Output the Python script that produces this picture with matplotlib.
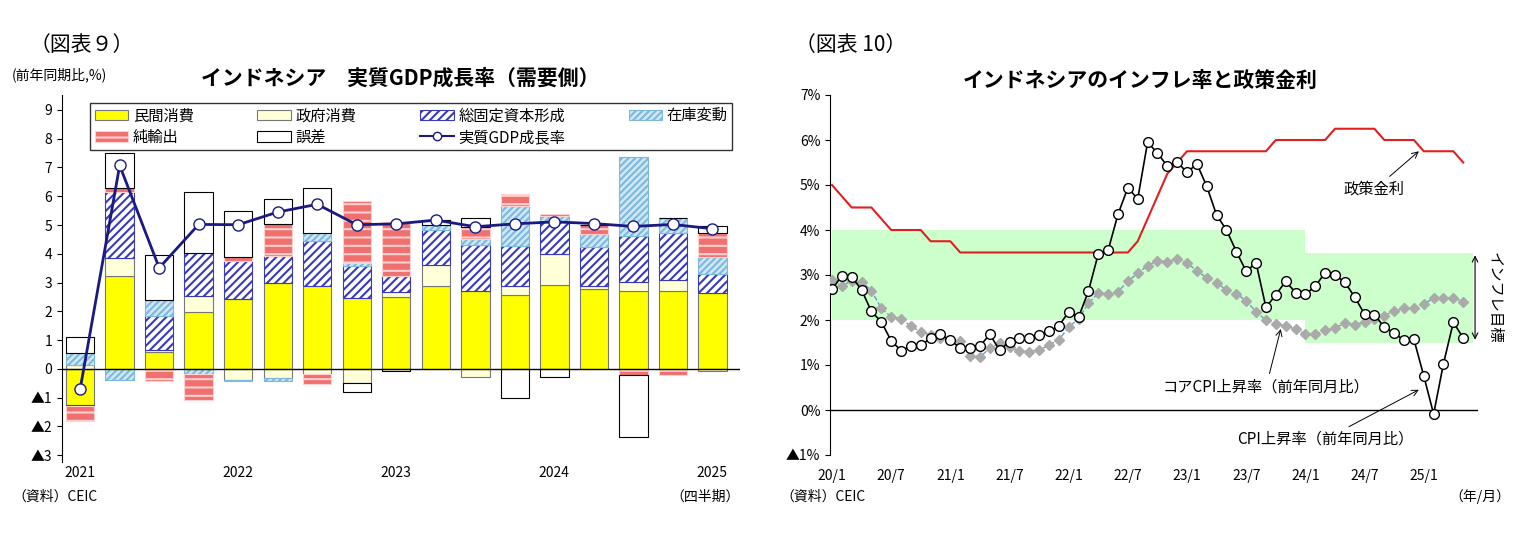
import matplotlib
matplotlib.use("Agg")
import matplotlib.pyplot as plt
import numpy as np
from matplotlib.patches import Patch
from matplotlib.lines import Line2D

plt.rcParams['font.family'] = ['Noto Sans CJK JP', 'DejaVu Sans']
plt.rcParams['hatch.linewidth'] = 1.5

# ---- Left chart data (2021Q1..2025Q1)
quarters = list(range(17))
year_labels = ["2021", "2022", "2023", "2024", "2025"]
private_cons = [-1.26, 3.24, 0.59, 1.97, 2.43, 2.98, 2.88, 2.47, 2.51, 2.88, 2.70, 2.58, 2.92, 2.76, 2.72, 2.71, 2.64]
gov_cons     = [0.13, 0.62, 0.06, 0.55, -0.40, -0.33, -0.19, -0.50, 0.16, 0.72, -0.30, 0.29, 1.08, 0.12, 0.29, 0.38, -0.07]
gfcf         = [-0.04, 2.29, 1.19, 1.49, 1.33, 0.95, 1.58, 1.09, 0.57, 1.23, 1.62, 1.41, 1.14, 1.34, 1.62, 1.64, 0.66]
stock        = [0.42, -0.40, 0.56, -0.19, -0.02, -0.09, 0.27, 0.12, 0.00, 0.16, 0.21, 1.37, 0.17, 0.45, 2.72, 0.52, 0.58]
net_exports  = [-0.50, 0.15, -0.42, -0.90, 0.12, 1.12, -0.35, 2.15, 1.86, 0.00, 0.41, 0.42, 0.08, 0.33, -0.22, -0.21, 0.84]
discrepancy  = [0.55, 1.19, 1.57, 2.14, 1.60, 0.87, 1.57, -0.30, -0.07, 0.20, 0.31, -1.02, -0.27, 0.00, -2.15, 0.00, 0.23]
gdp_growth   = [-0.70, 7.07, 3.51, 5.02, 5.01, 5.45, 5.72, 5.01, 5.04, 5.17, 4.94, 5.04, 5.11, 5.05, 4.95, 5.02, 4.87]

# ---- Right chart data (2020/1..2025/5)
cpi = [2.68, 2.98, 2.96, 2.67, 2.19, 1.96, 1.54, 1.32, 1.42, 1.44, 1.59, 1.68,
       1.55, 1.38, 1.37, 1.42, 1.68, 1.33, 1.52, 1.59, 1.60, 1.66, 1.75, 1.87,
       2.18, 2.06, 2.64, 3.47, 3.55, 4.35, 4.94, 4.69, 5.95, 5.71, 5.42, 5.51,
       5.28, 5.47, 4.97, 4.33, 4.00, 3.52, 3.08, 3.27, 2.28, 2.56, 2.86, 2.61,
       2.57, 2.75, 3.05, 3.00, 2.84, 2.51, 2.13, 2.12, 1.84, 1.71, 1.55, 1.57,
       0.76, -0.09, 1.03, 1.95, 1.60]
core_cpi = [2.88, 2.76, 2.87, 2.85, 2.65, 2.26, 2.07, 2.03, 1.86, 1.74, 1.67, 1.60,
            1.56, 1.53, 1.21, 1.18, 1.37, 1.49, 1.40, 1.31, 1.30, 1.33, 1.44, 1.56,
            1.84, 2.03, 2.37, 2.60, 2.58, 2.63, 2.86, 3.04, 3.21, 3.31, 3.30, 3.36,
            3.27, 3.09, 2.94, 2.83, 2.66, 2.58, 2.43, 2.18, 2.00, 1.91, 1.87, 1.80,
            1.68, 1.68, 1.77, 1.82, 1.93, 1.90, 1.95, 2.02, 2.09, 2.21, 2.26, 2.26,
            2.36, 2.48, 2.48, 2.50, 2.40]
policy_rate = [5.00, 4.75, 4.50, 4.50, 4.50, 4.25, 4.00, 4.00, 4.00, 4.00, 3.75, 3.75,
               3.75, 3.50, 3.50, 3.50, 3.50, 3.50, 3.50, 3.50, 3.50, 3.50, 3.50, 3.50,
               3.50, 3.50, 3.50, 3.50, 3.50, 3.50, 3.50, 3.75, 4.25, 4.75, 5.25, 5.50,
               5.75, 5.75, 5.75, 5.75, 5.75, 5.75, 5.75, 5.75, 5.75, 6.00, 6.00, 6.00,
               6.00, 6.00, 6.00, 6.25, 6.25, 6.25, 6.25, 6.25, 6.00, 6.00, 6.00, 6.00,
               5.75, 5.75, 5.75, 5.75, 5.50]
month_labels = ["20/1", "20/7", "21/1", "21/7", "22/1", "22/7", "23/1", "23/7", "24/1", "24/7", "25/1"]
target_lo = [2.0, 1.5]
target_hi = [4.0, 3.5]

W, H = 1528, 541
fig = plt.figure(figsize=(W/100, H/100), dpi=100)

def ax_rect(x0, y0, x1, y1):
    return [x0/W, 1-y1/H, (x1-x0)/W, (y1-y0)/H]

def ftext(x, y, s, **kw):
    fig.text(x/W, 1-y/H, s, **kw)

# ================= Left =================
ax = fig.add_axes(ax_rect(62, 95, 740, 462))
series = [
    (private_cons, dict(facecolor="#ffff00", edgecolor="#777777"), "民間消費"),
    (gov_cons, dict(facecolor="#ffffd8", edgecolor="#777777"), "政府消費"),
    (gfcf, dict(facecolor="white", edgecolor="#3a3ab8", hatch="////"), "総固定資本形成"),
    (stock, dict(facecolor="#cce8f6", edgecolor="#7fb8dd", hatch="/////"), "在庫変動"),
    (net_exports, dict(facecolor="#f07070", edgecolor="#ffd0d0", hatch="--"), "純輸出"),
    (discrepancy, dict(facecolor="white", edgecolor="black"), "誤差"),
]
x = np.array(quarters)
pos = np.zeros(17); neg = np.zeros(17)
handles = []
for vals, style, lab in series:
    v = np.array(vals)
    bottom = np.where(v >= 0, pos, neg)
    ax.bar(x, v, 0.72, bottom=bottom, linewidth=0.8, **style)
    pos = pos + np.where(v >= 0, v, 0)
    neg = neg + np.where(v < 0, v, 0)
    handles.append(Patch(label=lab, linewidth=0.8, **style))
ax.plot(x, gdp_growth, color="#1a1a80", lw=2, marker="o", ms=8, mfc="white", mec="#1a1a80", zorder=5)
gdp_h = Line2D([], [], color="#1a1a80", lw=1.5, marker="o", mfc="white", ms=6, label="実質GDP成長率")
ordered = [handles[0], handles[4], handles[1], handles[5], handles[2], gdp_h, handles[3]]
ax.axhline(0, color="black", lw=1)
ax.set_ylim(-3.24, 9.52)
ax.set_xlim(-0.46, 16.7)
ax.set_yticks(range(-3, 10))
ax.set_yticklabels(["▲3", "▲2", "▲1"] + [str(i) for i in range(10)], fontsize=10)
ax.set_xticks([0, 4, 8, 12, 16])
ax.set_xticklabels(year_labels, fontsize=10)
ax.tick_params(axis="x", length=0, pad=3)
for s in ["top", "right", "bottom"]:
    ax.spines[s].set_visible(False)
leg = ax.legend(handles=ordered, ncol=4, loc="upper left", bbox_to_anchor=(0.03, 1.0, 0.97, 0.0),
                mode="expand", frameon=True, fancybox=False, edgecolor="black", fontsize=11,
                handlelength=2.2, handletextpad=0.3, borderpad=0.3, labelspacing=0.3)
leg.get_frame().set_linewidth(1)

ftext(30, 45, "（図表９）", fontsize=15, va="center")
ftext(12, 75, "(前年同期比,%)", fontsize=10, va="center")
ftext(400, 78, "インドネシア　実質GDP成長率（需要側）", fontsize=15, weight="bold", va="center", ha="center")
ftext(12, 497, "（資料）CEIC", fontsize=10, va="center")
ftext(740, 497, "（四半期）", fontsize=10, va="center", ha="right")

# ================= Right =================
ax2 = fig.add_axes(ax_rect(830, 95, 1478, 455))
n = len(cpi)
m = np.arange(n)
ax2.fill_between([0, 48], target_lo[0], target_hi[0], color="#ccffcc", lw=0, zorder=0)
ax2.fill_between([48, 65], target_lo[1], target_hi[1], color="#ccffcc", lw=0, zorder=0)
ax2.plot(m, policy_rate, color="#e02020", lw=1.5, zorder=2)
ax2.plot(m, core_cpi, color="#6a9ad0", lw=1, ls="--", marker="D", ms=5, mfc="#aaaaaa", mec="#aaaaaa", zorder=3)
ax2.plot(m, cpi, color="black", lw=1.2, marker="o", ms=7, mfc="white", mec="black", zorder=4)
ax2.axhline(0, color="black", lw=1)
ax2.set_ylim(-1, 7)
ax2.set_xlim(-0.2, 65.5)
ax2.set_yticks(range(-1, 8))
ax2.set_yticklabels(["▲1%"] + [f"{i}%" for i in range(8)], fontsize=10)
ax2.set_xticks(range(0, 61, 6))
ax2.set_xticklabels(month_labels, fontsize=10)
ax2.tick_params(axis="x", length=0, pad=10)
for s in ["top", "right", "bottom"]:
    ax2.spines[s].set_visible(False)
ax2.annotate("", xy=(65.2, 3.5), xytext=(65.2, 1.5),
             arrowprops=dict(arrowstyle="<->", lw=0.8, color="black"))
ax2.text(66.3, 2.5, "インフレ目標", rotation=270, fontsize=11, va="center", ha="left")
ax2.annotate("政策金利", xy=(59.5, 5.75), xytext=(55, 4.9), fontsize=11, ha="center", va="center",
             arrowprops=dict(arrowstyle="->", lw=0.7, color="black", shrinkB=0))
ax2.annotate("コアCPI上昇率（前年同月比）", xy=(45.5, 1.8), xytext=(44, 0.5), fontsize=11, ha="center", va="center",
             arrowprops=dict(arrowstyle="->", lw=0.7, color="black", shrinkB=0))
ax2.annotate("CPI上昇率（前年同月比）", xy=(59.5, 0.45), xytext=(50, -0.65), fontsize=11, ha="center", va="center",
             arrowprops=dict(arrowstyle="->", lw=0.7, color="black", shrinkB=0))

ftext(795, 45, "（図表 10）", fontsize=15, va="center")
ftext(1140, 80, "インドネシアのインフレ率と政策金利", fontsize=15, weight="bold", va="center", ha="center")
ftext(780, 497, "（資料）CEIC", fontsize=10, va="center")
ftext(1510, 497, "（年/月）", fontsize=10, va="center", ha="right")

fig.savefig("out.png", dpi=100)
